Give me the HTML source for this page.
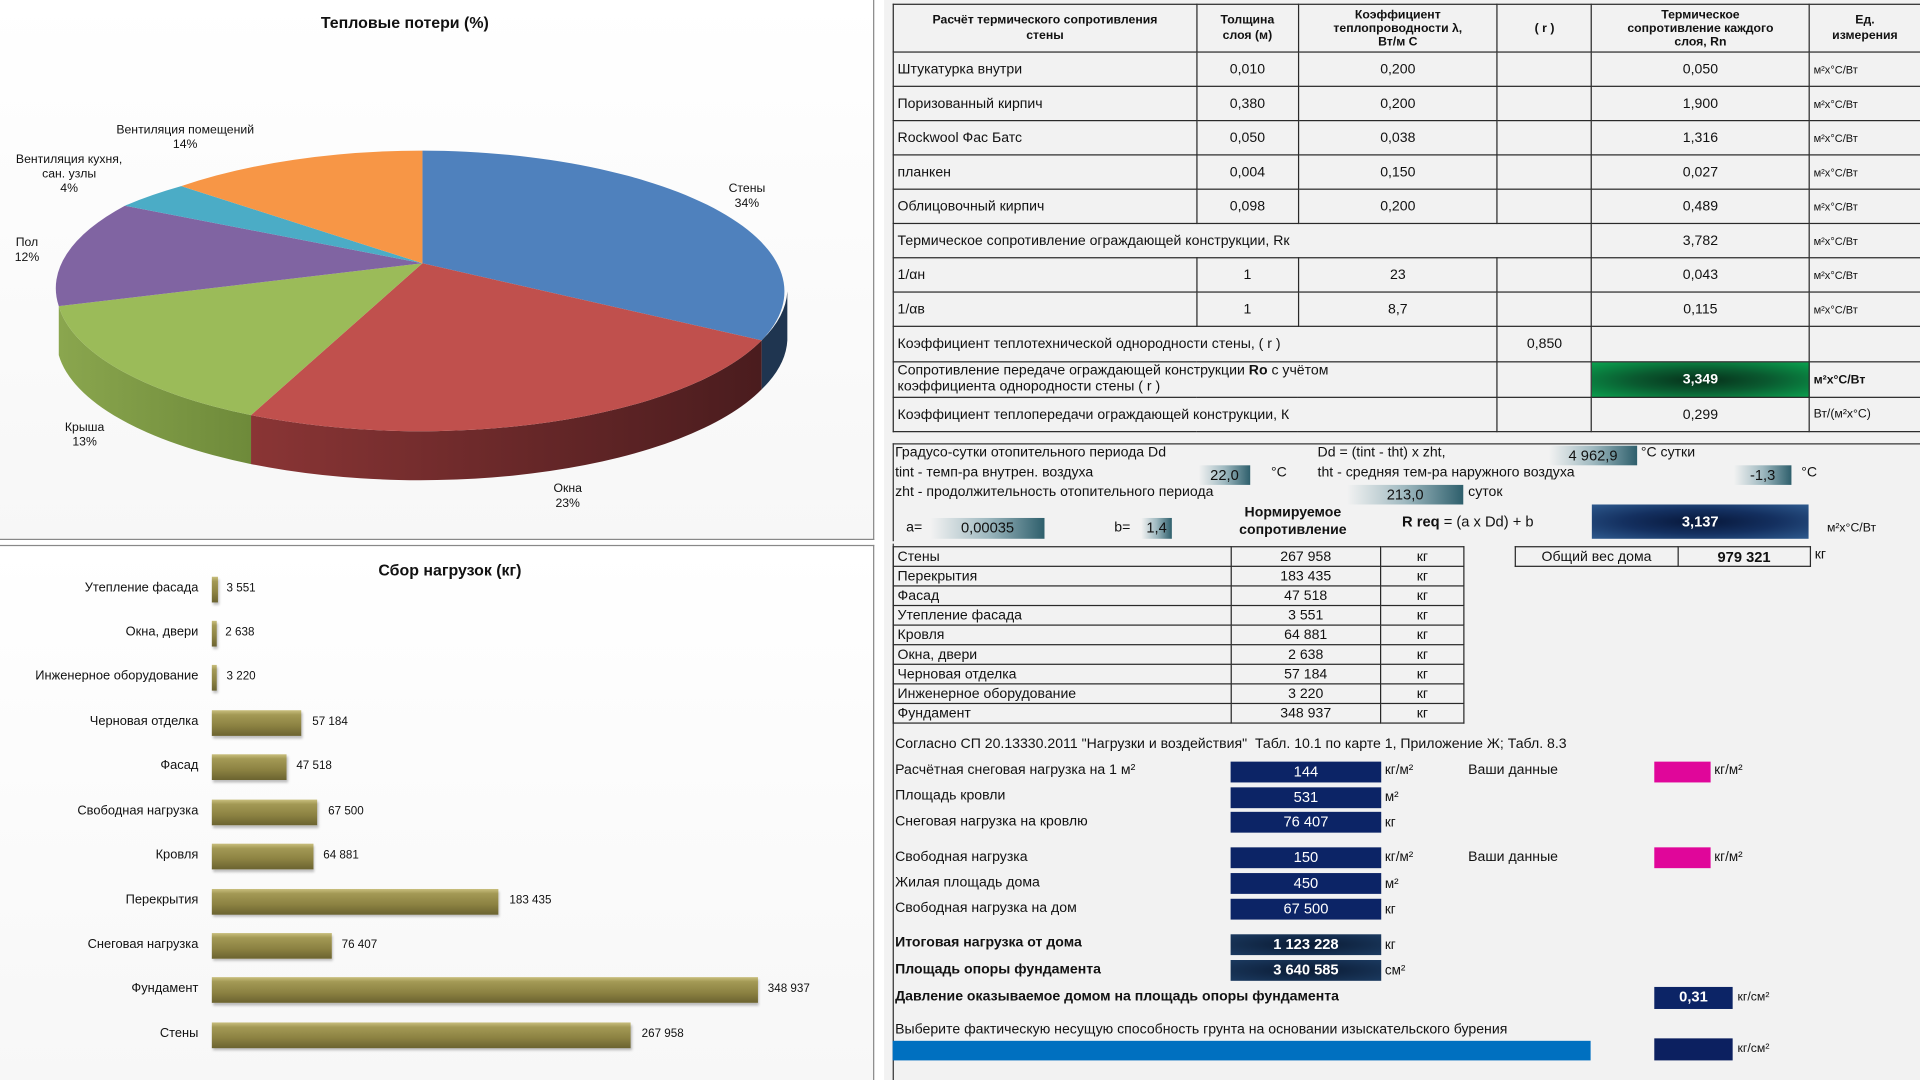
<!DOCTYPE html>
<html><head><meta charset="utf-8"><style>
*{margin:0;padding:0;box-sizing:border-box}
body{width:1920px;height:1080px;overflow:hidden;background:#fff;font-family:"Liberation Sans","DejaVu Sans",sans-serif;color:#111}
#w{position:absolute;left:0;top:0;width:1568px;height:882px;transform:scale(1.22449);transform-origin:0 0}
.a{position:absolute;white-space:nowrap}
table{border-collapse:collapse;position:absolute}
td{border:1.6px solid #2a2a2a;font-size:11.5px;padding:0 3px;white-space:nowrap}
.c{text-align:center}.u{font-size:9px}
.bx{position:absolute;background:#0c2466;color:#fff;text-align:center;font-size:12px;line-height:17px}
.tg{position:absolute;background:linear-gradient(90deg,#f2f2f2,#9fb9c0 50%,#2e5f6c);text-align:center;font-size:12px;line-height:16px}
.bar{position:absolute;left:173px;height:21px;background:linear-gradient(180deg,#c9bf7e 0,#a39955 18%,#8c8242 60%,#6b6330 100%);box-shadow:1px 2px 2px rgba(0,0,0,.25)}
.bl{position:absolute;right:1406px;font-size:10.5px;text-align:right}
.bv{position:absolute;font-size:9.5px}
.pl{position:absolute;font-size:10px;text-align:center;line-height:12px}
</style></head><body><div id="w">
<!-- left panels -->
<div class="a" style="left:0;top:0;width:714px;height:441px;background:linear-gradient(180deg,#fff,#f7f7f7);border-right:1px solid #888;border-bottom:1px solid #888"></div>
<div class="a" style="left:0;top:445px;width:714px;height:437px;background:linear-gradient(180deg,#fff,#f7f7f7);border-right:1px solid #888;border-top:1px solid #888"></div>
<div class="a" style="left:262px;top:11px;font-size:13px;font-weight:bold">Тепловые потери (%)</div>
<svg class="a" style="left:0;top:0" width="714" height="440">
<defs>
<linearGradient id="gr" x1="0" x2="1"><stop offset="0" stop-color="#8a3535"/><stop offset="1" stop-color="#4a1c1e"/></linearGradient>
<linearGradient id="gg" x1="0" x2="1"><stop offset="0" stop-color="#8aa64e"/><stop offset="1" stop-color="#6e8a3a"/></linearGradient>
</defs>
<path d="M643,238 A298,115 0 0 1 622,278 L622,318 A298,115 0 0 0 643,278 Z" fill="#1f3550"/>
<path d="M622,278 A298,115 0 0 1 205,339 L205,379 A298,115 0 0 0 622,318 Z" fill="url(#gr)"/>
<path d="M205,339 A298,115 0 0 1 48,250 L48,290 A298,115 0 0 0 205,379 Z" fill="url(#gg)"/>
<path d="M345,215 L345,123 A298,115 0 0 1 622,278 Z" fill="#4f81bd"/>
<path d="M345,215 L622,278 A298,115 0 0 1 205,339 Z" fill="#c0504d"/>
<path d="M345,215 L205,339 A298,115 0 0 1 48,250 Z" fill="#9bbb59"/>
<path d="M345,215 L48,250 A298,115 0 0 1 102,168 Z" fill="#8064a2"/>
<path d="M345,215 L102,168 A298,115 0 0 1 148,152 Z" fill="#4bacc6"/>
<path d="M345,215 L148,152 A298,115 0 0 1 345,123 Z" fill="#f79646"/>
</svg>
<div class="pl" style="left:595px;top:149px">Стены<br>34%</div>
<div class="pl" style="left:452px;top:394px">Окна<br>23%</div>
<div class="pl" style="left:53px;top:344px">Крыша<br>13%</div>
<div class="pl" style="left:12px;top:193px">Пол<br>12%</div>
<div class="pl" style="left:13px;top:125px">Вентиляция кухня,<br>сан. узлы<br>4%</div>
<div class="pl" style="left:95px;top:101px">Вентиляция помещений<br>14%</div>
<!-- bar chart -->
<div class="a" style="left:309px;top:458px;font-size:13px;font-weight:bold">Сбор нагрузок (кг)</div>
<div class="bar" style="top:471px;width:5px"></div><div class="bl" style="top:474px">Утепление фасада</div><div class="bv" style="left:185px;top:475px">3 551</div>
<div class="bar" style="top:507px;width:4px"></div><div class="bl" style="top:510px">Окна, двери</div><div class="bv" style="left:184px;top:511px">2 638</div>
<div class="bar" style="top:543px;width:4px"></div><div class="bl" style="top:546px">Инженерное оборудование</div><div class="bv" style="left:185px;top:547px">3 220</div>
<div class="bar" style="top:580px;width:73px"></div><div class="bl" style="top:583px">Черновая отделка</div><div class="bv" style="left:255px;top:584px">57 184</div>
<div class="bar" style="top:616px;width:61px"></div><div class="bl" style="top:619px">Фасад</div><div class="bv" style="left:242px;top:620px">47 518</div>
<div class="bar" style="top:653px;width:86px"></div><div class="bl" style="top:656px">Свободная нагрузка</div><div class="bv" style="left:268px;top:657px">67 500</div>
<div class="bar" style="top:689px;width:83px"></div><div class="bl" style="top:692px">Кровля</div><div class="bv" style="left:264px;top:693px">64 881</div>
<div class="bar" style="top:726px;width:234px"></div><div class="bl" style="top:729px">Перекрытия</div><div class="bv" style="left:416px;top:730px">183 435</div>
<div class="bar" style="top:762px;width:98px"></div><div class="bl" style="top:765px">Снеговая нагрузка</div><div class="bv" style="left:279px;top:766px">76 407</div>
<div class="bar" style="top:798px;width:446px"></div><div class="bl" style="top:801px">Фундамент</div><div class="bv" style="left:627px;top:802px">348 937</div>
<div class="bar" style="top:835px;width:342px"></div><div class="bl" style="top:838px">Стены</div><div class="bv" style="left:524px;top:839px">267 958</div>
<!-- right bg -->
<div class="a" style="left:722px;top:0;width:846px;height:882px;background:#f2f2f2"></div>
<table style="left:729px;top:3px;width:840px">
<colgroup><col style="width:248px"><col style="width:83px"><col style="width:163px"><col style="width:77px"><col style="width:178px"><col style="width:91px"></colgroup>
<tr style="height:39px;font-weight:bold"><td style="font-size:10px;text-align:center;line-height:13px">Расчёт термического сопротивления<br>стены</td><td class="c" style="font-size:10px;line-height:13px">Толщина<br>слоя (м)</td><td class="c" style="font-size:10px;line-height:11px">Коэффициент<br>теплопроводности λ,<br>Вт/м С</td><td class="c" style="font-size:10px">( r )</td><td class="c" style="font-size:10px;line-height:11px">Термическое<br>сопротивление каждого<br>слоя, Rn</td><td class="c" style="font-size:10px;line-height:13px">Ед.<br>измерения</td></tr>
<tr style="height:28px"><td>Штукатурка внутри</td><td class="c">0,010</td><td class="c">0,200</td><td></td><td class="c">0,050</td><td class="u">м²х°С/Вт</td></tr>
<tr style="height:28px"><td>Поризованный кирпич</td><td class="c">0,380</td><td class="c">0,200</td><td></td><td class="c">1,900</td><td class="u">м²х°С/Вт</td></tr>
<tr style="height:28px"><td>Rockwool Фас Батс</td><td class="c">0,050</td><td class="c">0,038</td><td></td><td class="c">1,316</td><td class="u">м²х°С/Вт</td></tr>
<tr style="height:28px"><td>планкен</td><td class="c">0,004</td><td class="c">0,150</td><td></td><td class="c">0,027</td><td class="u">м²х°С/Вт</td></tr>
<tr style="height:28px"><td>Облицовочный кирпич</td><td class="c">0,098</td><td class="c">0,200</td><td></td><td class="c">0,489</td><td class="u">м²х°С/Вт</td></tr>
<tr style="height:28px"><td colspan="4">Термическое сопротивление ограждающей конструкции, Rк</td><td class="c">3,782</td><td class="u">м²х°С/Вт</td></tr>
<tr style="height:28px"><td>1/αн</td><td class="c">1</td><td class="c">23</td><td></td><td class="c">0,043</td><td class="u">м²х°С/Вт</td></tr>
<tr style="height:28px"><td>1/αв</td><td class="c">1</td><td class="c">8,7</td><td></td><td class="c">0,115</td><td class="u">м²х°С/Вт</td></tr>
<tr style="height:29px"><td colspan="3">Коэффициент теплотехнической однородности стены, ( r )</td><td class="c">0,850</td><td></td><td></td></tr>
<tr style="height:29px"><td colspan="3" style="line-height:13px">Сопротивление передаче ограждающей конструкции <b>Ro</b> с учётом<br>коэффициента однородности стены ( r )</td><td></td><td class="c" style="background:radial-gradient(ellipse at center,#06301a 0,#0a5a30 45%,#0aa04e 100%);color:#fff;font-weight:bold">3,349</td><td class="u" style="font-weight:bold;font-size:10px">м²х°С/Вт</td></tr>
<tr style="height:28px"><td colspan="3">Коэффициент теплопередачи ограждающей конструкции, К</td><td></td><td class="c">0,299</td><td class="u" style="font-size:10px">Вт/(м²х°С)</td></tr>
</table>
<!-- Dd section -->
<div class="a" style="left:729px;top:362px;width:840px;height:80px;border:1.5px solid #333;border-right:none;border-bottom:none"></div>
<div class="a" style="left:731px;top:364px;font-size:11.5px">Градусо-сутки отопительного периода Dd</div>
<div class="a" style="left:1076px;top:364px;font-size:11.5px">Dd = (tint - tht) x zht,</div>
<div class="tg" style="left:1265px;top:364px;width:72px">4 962,9</div>
<div class="a" style="left:1340px;top:364px;font-size:11.5px">°С сутки</div>
<div class="a" style="left:731px;top:380px;font-size:11.5px">tint - темп-ра внутрен. воздуха</div>
<div class="tg" style="left:979px;top:380px;width:42px">22,0</div>
<div class="a" style="left:1038px;top:380px;font-size:11.5px">°С</div>
<div class="a" style="left:1076px;top:380px;font-size:11.5px">tht - средняя тем-ра наружного воздуха</div>
<div class="tg" style="left:1416px;top:380px;width:47px">-1,3</div>
<div class="a" style="left:1471px;top:380px;font-size:11.5px">°С</div>
<div class="a" style="left:731px;top:396px;font-size:11.5px">zht - продолжительность отопительного периода</div>
<div class="tg" style="left:1100px;top:396px;width:95px">213,0</div>
<div class="a" style="left:1199px;top:396px;font-size:11.5px">суток</div>
<div class="a" style="left:740px;top:425px;font-size:11.5px">a=</div>
<div class="tg" style="left:760px;top:423px;width:93px;height:17px">0,00035</div>
<div class="a" style="left:910px;top:425px;font-size:11.5px">b=</div>
<div class="tg" style="left:932px;top:423px;width:25px;height:17px">1,4</div>
<div class="a" style="left:1012px;top:412px;font-size:11.5px;font-weight:bold;text-align:center;line-height:14px">Нормируемое<br>сопротивление</div>
<div class="a" style="left:1145px;top:419px;font-size:12px"><b>R req</b> = (a x Dd) + b</div>
<div class="a" style="left:1300px;top:412px;width:177px;height:28px;background:radial-gradient(ellipse at center,#07173a 0,#143060 50%,#2e5a8e 100%);color:#fff;font-weight:bold;text-align:center;line-height:28px;font-size:12px">3,137</div>
<div class="a" style="left:1492px;top:426px;font-size:10px">м²х°С/Вт</div>
<!-- load table -->
<div class="a" style="left:729px;top:444px;width:1px;height:438px;background:#333"></div>
<table style="left:729px;top:446px;width:467px">
<colgroup><col style="width:276px"><col style="width:123px"><col style="width:68px"></colgroup>
<tr style="height:16px"><td>Стены</td><td class="c">267 958</td><td class="c">кг</td></tr>
<tr style="height:16px"><td>Перекрытия</td><td class="c">183 435</td><td class="c">кг</td></tr>
<tr style="height:16px"><td>Фасад</td><td class="c">47 518</td><td class="c">кг</td></tr>
<tr style="height:16px"><td>Утепление фасада</td><td class="c">3 551</td><td class="c">кг</td></tr>
<tr style="height:16px"><td>Кровля</td><td class="c">64 881</td><td class="c">кг</td></tr>
<tr style="height:16px"><td>Окна, двери</td><td class="c">2 638</td><td class="c">кг</td></tr>
<tr style="height:16px"><td>Черновая отделка</td><td class="c">57 184</td><td class="c">кг</td></tr>
<tr style="height:16px"><td>Инженерное оборудование</td><td class="c">3 220</td><td class="c">кг</td></tr>
<tr style="height:16px"><td>Фундамент</td><td class="c">348 937</td><td class="c">кг</td></tr>
</table>
<table style="left:1237px;top:446px;width:242px">
<colgroup><col style="width:133px"><col style="width:109px"></colgroup>
<tr style="height:16px"><td class="c">Общий вес дома</td><td class="c" style="font-weight:bold;font-size:12px">979 321</td></tr>
</table>
<div class="a" style="left:1482px;top:447px;font-size:11.5px">кг</div>
<div class="a" style="left:731px;top:602px;font-size:11.5px">Согласно СП 20.13330.2011 "Нагрузки и воздействия"&nbsp; Табл. 10.1 по карте 1, Приложение Ж; Табл. 8.3</div>
<div class="a" style="left:731px;top:623px;font-size:11.5px">Расчётная снеговая нагрузка на 1 м²</div>
<div class="bx" style="left:1005px;top:622px;width:123px">144</div>
<div class="a" style="left:1131px;top:623px;font-size:11px">кг/м²</div>
<div class="a" style="left:1199px;top:623px;font-size:11.5px">Ваши данные</div>
<div class="a" style="left:1351px;top:622px;width:46px;height:17px;background:#e0069a"></div>
<div class="a" style="left:1400px;top:623px;font-size:11px">кг/м²</div>
<div class="a" style="left:731px;top:644px;font-size:11.5px">Площадь кровли</div>
<div class="bx" style="left:1005px;top:643px;width:123px">531</div>
<div class="a" style="left:1131px;top:645px;font-size:11px">м²</div>
<div class="a" style="left:731px;top:665px;font-size:11.5px">Снеговая нагрузка на кровлю</div>
<div class="bx" style="left:1005px;top:663px;width:123px">76 407</div>
<div class="a" style="left:1131px;top:666px;font-size:11px">кг</div>
<div class="a" style="left:731px;top:694px;font-size:11.5px">Свободная нагрузка</div>
<div class="bx" style="left:1005px;top:692px;width:123px">150</div>
<div class="a" style="left:1131px;top:694px;font-size:11px">кг/м²</div>
<div class="a" style="left:1199px;top:694px;font-size:11.5px">Ваши данные</div>
<div class="a" style="left:1351px;top:692px;width:46px;height:17px;background:#e0069a"></div>
<div class="a" style="left:1400px;top:694px;font-size:11px">кг/м²</div>
<div class="a" style="left:731px;top:715px;font-size:11.5px">Жилая площадь дома</div>
<div class="bx" style="left:1005px;top:713px;width:123px">450</div>
<div class="a" style="left:1131px;top:716px;font-size:11px">м²</div>
<div class="a" style="left:731px;top:736px;font-size:11.5px">Свободная нагрузка на дом</div>
<div class="bx" style="left:1005px;top:734px;width:123px">67 500</div>
<div class="a" style="left:1131px;top:737px;font-size:11px">кг</div>
<div class="a" style="left:731px;top:764px;font-size:11.5px;font-weight:bold">Итоговая нагрузка от дома</div>
<div class="bx" style="left:1005px;top:763px;width:123px;font-weight:bold;background:radial-gradient(ellipse at center,#0a1a33,#1b3a60)">1 123 228</div>
<div class="a" style="left:1131px;top:766px;font-size:11px">кг</div>
<div class="a" style="left:731px;top:786px;font-size:11.5px;font-weight:bold">Площадь опоры фундамента</div>
<div class="bx" style="left:1005px;top:784px;width:123px;font-weight:bold;background:radial-gradient(ellipse at center,#0a1a33,#1b3a60)">3 640 585</div>
<div class="a" style="left:1131px;top:787px;font-size:11px">см²</div>
<div class="a" style="left:731px;top:808px;font-size:11.5px;font-weight:bold">Давление оказываемое домом на площадь опоры фундамента</div>
<div class="bx" style="left:1351px;top:806px;width:64px;height:18px;font-weight:bold">0,31</div>
<div class="a" style="left:1419px;top:809px;font-size:10px">кг/см²</div>
<div class="a" style="left:731px;top:835px;font-size:11.5px">Выберите фактическую несущую способность грунта на основании изыскательского бурения</div>
<div class="a" style="left:729px;top:850px;width:570px;height:16px;background:#0070c0"></div>
<div class="a" style="left:1351px;top:848px;width:64px;height:18px;background:#0c2060"></div>
<div class="a" style="left:1419px;top:851px;font-size:10px">кг/см²</div>
</div></body></html>
